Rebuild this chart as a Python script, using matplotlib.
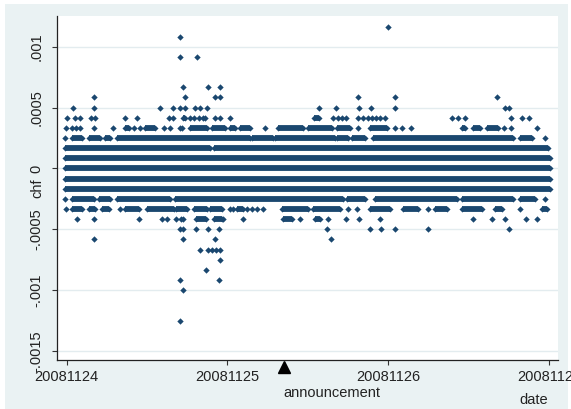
import numpy as np
import matplotlib.pyplot as plt
from matplotlib.patches import Rectangle
from matplotlib.transforms import blended_transform_factory

plt.rcParams['font.family'] = ['Liberation Sans', 'DejaVu Sans']
plt.rcParams['font.size'] = 10.5

# chf moves come in steps of 1/12000, levels below are counted in steps
step = 0.0005 / 6

# x is days after 20081124
date_ticks = [0, 1, 2, 3]
date_labels = ['20081124', '20081125', '20081126', '20081127']
announcement_day = 1.353

# dense runs of observations: level, first day, last day
run_level = [-2, -1, 0, 1, 2, 2,
             3, 3, 3, 3, 3, 3, 3, 3, 3, 3,
             4, 4, 4, 4, 4, 4, 4, 4, 4, 4, 4, 4, 4,
             5, 5,
             -3, -3, -3, -3, -3, -3, -3, -3,
             -4, -4, -4, -4, -4, -4, -4, -4, -4, -4, -4, -4, -4, -4, -4, -4, -4,
             -5, -5, -5, -5]
run_start = [-0.008, -0.008, -0.008, -0.008, -0.008, 0.914,
             0.033, 0.137, 0.240, 0.313, 1.150, 1.295, 1.679, 1.772, 1.907, 2.819,
             0.365, 0.489, 0.765, 0.904, 1.016, 1.078, 1.316, 1.503, 1.683, 1.886, 2.456, 2.529, 2.611,
             0.723, 1.538,
             0.033, 0.199, 0.313, 0.676, 1.741, 1.917, 2.456, 2.819,
             0.033, 0.137, 0.220, 0.365, 0.499, 0.682, 0.790, 0.893, 1.058, 1.337, 1.534, 1.886, 2.093,
             2.290, 2.456, 2.663, 2.954,
             0.806, 0.914, 1.347, 1.544]
run_end = [3.006, 3.006, 3.006, 3.006, 0.893, 2.995,
           0.095, 0.209, 0.271, 1.140, 1.285, 1.668, 1.751, 1.855, 2.777, 2.891,
           0.385, 0.551, 0.873, 0.985, 1.047, 1.140, 1.471, 1.648, 1.762, 1.990, 2.477, 2.570, 2.684,
           0.738, 1.571,
           0.168, 0.271, 0.645, 1.720, 1.855, 2.425, 2.777, 2.912,
           0.095, 0.178, 0.261, 0.447, 0.665, 0.748, 0.873, 0.966, 1.099, 1.503, 1.700, 2.011, 2.187,
           2.363, 2.580, 2.705, 2.985,
           0.868, 0.966, 1.399, 1.575]

# single observations away from the runs
up3 = [-0.008, 2.974]
up4 = [-0.004, 0.033, 0.058, 0.085, 0.168, 0.288, 0.417, 0.458, 0.603, 0.645, 0.705, 0.717,
       1.233, 1.814, 2.042, 2.083, 2.141, 2.721, 2.763, 2.923]
up5 = [0.000, 0.054, 0.085, 0.153, 0.174, 0.365, 0.437, 0.634, 0.661, 0.769, 0.794, 0.821,
       0.846, 0.862, 0.924, 0.956, 1.016, 1.658, 1.685, 1.710, 1.737, 1.814, 1.845, 1.872,
       1.897, 1.924, 1.949, 1.980, 2.394, 2.432, 2.477, 2.763, 2.829, 2.875]
up6 = [0.040, 0.168, 0.578, 0.661, 0.703, 0.738, 0.800, 0.827, 0.873, 1.571, 1.675, 1.820,
       1.890, 2.042, 2.725, 2.750]
up7 = [0.168, 0.738, 0.924, 0.956, 1.814, 2.042, 2.674]
up8 = [0.723, 0.877, 0.951]
up11 = [0.705, 0.812]
up13 = [0.705]
up14 = [2.001]
dn3 = [-0.008, 2.974]
dn4 = [-0.004, 0.329, 1.016, 1.037, 1.120, 1.150, 1.181, 1.219, 1.751, 1.803, 2.249, 2.819]
dn5 = [0.064, 0.168, 0.447, 0.593, 0.624, 0.682, 0.710, 0.723, 0.974, 1.094, 1.451, 1.627,
       1.737, 1.820, 1.949, 2.529, 2.643, 2.725, 2.854, 2.927]
dn6 = [0.703, 0.723, 0.806, 0.877, 0.949, 1.617, 1.886, 1.953, 2.042, 2.249, 2.750]
dn7 = [0.168, 0.723, 0.924, 1.642]
dn8 = [0.831, 0.877, 0.904, 0.931, 0.956]
dn9 = [0.951]
dn10 = [0.868]
dn11 = [0.705, 0.945]
dn12 = [0.723]
dn15 = [0.705]

singles = [(3, up3), (4, up4), (5, up5), (6, up6), (7, up7), (8, up8), (11, up11),
           (13, up13), (14, up14), (-3, dn3), (-4, dn4), (-5, dn5), (-6, dn6), (-7, dn7),
           (-8, dn8), (-9, dn9), (-10, dn10), (-11, dn11), (-12, dn12), (-15, dn15)]

navy = '#1a476f'
bg = '#eaf2f3'

fig = plt.figure(figsize=(5.71, 4.09), dpi=100)
fig.patch.set_facecolor('white')
fig.add_artist(Rectangle((5/571, 0), 563/571, 405/409, transform=fig.transFigure,
                         facecolor=bg, edgecolor='none', zorder=-1))
ax = fig.add_axes([57/571, 49/409, 501/571, 344/409])
ax.set_facecolor('white')

for lev, x0, x1 in zip(run_level, run_start, run_end):
    ax.plot([x0, x1], [lev * step, lev * step], color=navy, lw=4.2,
            solid_capstyle='butt', marker='D', ms=3.1, mew=0)

for lev, days in singles:
    ax.scatter(days, np.full(len(days), lev * step), marker='D', s=10.5,
               color=navy, linewidths=0, zorder=3)

ax.set_xlim(-0.060, 3.055)
ax.set_ylim(-0.001574, 0.001253)

yt = [-0.0015, -0.001, -0.0005, 0, 0.0005, 0.001]
ax.set_yticks(yt)
ax.set_yticklabels(['-.0015', '-.001', '-.0005', '0', '.0005', '.001'],
                   rotation=90, va='center')
ax.set_xticks(date_ticks)
ax.set_xticklabels(date_labels)
ax.tick_params(axis='both', length=3.6, width=0.8, color='#333333', labelcolor='#222222')
ax.tick_params(axis='y', pad=6)
ax.tick_params(axis='x', pad=3.5)
ax.grid(axis='y', color='#e3ecef', lw=1)
ax.set_axisbelow(True)

for s in ['top', 'right']:
    ax.spines[s].set_visible(False)
for s in ['left', 'bottom']:
    ax.spines[s].set_color('#222222')
    ax.spines[s].set_linewidth(0.9)

ax.text(-0.040, 0.5, 'chf', transform=ax.transAxes, rotation=90,
        ha='center', va='center', color='#222222')
ax.text(0.952, -0.116, 'date', transform=ax.transAxes,
        ha='center', va='center', color='#222222')

trans = blended_transform_factory(ax.transData, ax.transAxes)
ax.plot([announcement_day], [-0.019], marker='^', ms=8, color='black',
        transform=trans, clip_on=False)
ax.text(announcement_day - 0.008, -0.096, 'announcement', transform=trans,
        ha='left', va='center', color='#222222')

fig.savefig('out.png', dpi=100)
